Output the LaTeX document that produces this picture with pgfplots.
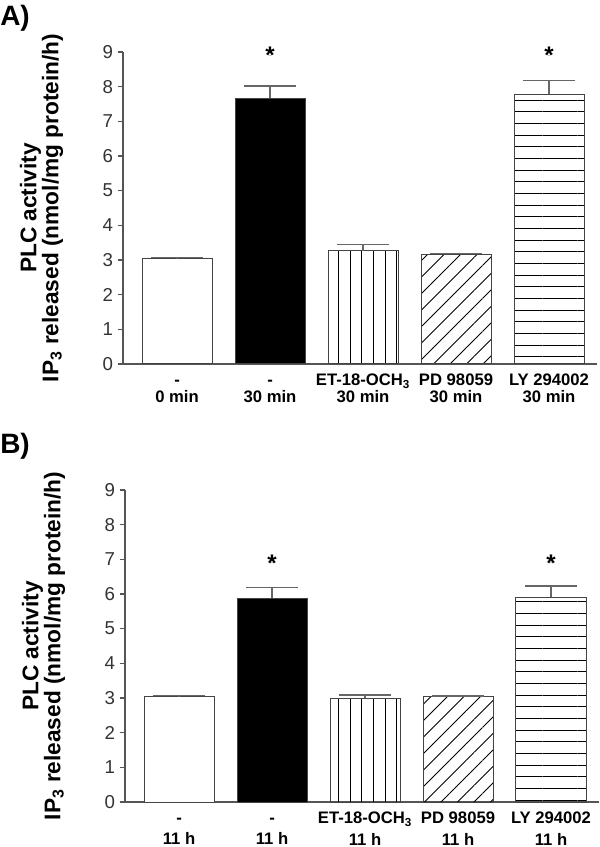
\documentclass[border=0pt]{standalone}
\usepackage{fontspec}
\setmainfont{Liberation Sans}
\usepackage{pgfplots}
\pgfplotsset{compat=1.18}
\usetikzlibrary{patterns.meta}
\definecolor{axc}{HTML}{555555}
\definecolor{barc}{HTML}{444444}
\definecolor{errc}{HTML}{666666}
\definecolor{tickc}{HTML}{333333}
\pgfplotsset{
 panel/.style={
  width=355.5pt, height=234pt, scale only axis,
  xmin=-0.581, xmax=4.516, ymin=0, ymax=9,
  axis x line*=bottom, axis y line*=left,
  axis line style={axc, line width=0.9pt, -},
  ytick={0,...,9}, tick align=outside, major tick length=4pt,
  ytick style={axc, line width=0.9pt},
  xtick={0,...,4}, xtick style={draw=none},
  yticklabel style={font=\fontsize{14}{16}\selectfont, text=tickc},
  xticklabel style={align=center, font=\bfseries\fontsize{12.5}{12.5}\selectfont, text=black},
  /pgf/number format/assume math mode=true,
  ylabel={PLC activity\\IP\textsubscript{3} released (nmol/mg protein/h)},
  ylabel style={align=center, font=\bfseries\fontsize{17}{16.5}\selectfont, at={(axis description cs:-0.172,0.5)}, anchor=center},
  clip=false,
 },
 mybar/.style={ybar, bar width=0.753, bar shift=0pt, draw=barc, line width=0.75pt,
  /pgfplots/error bars/y dir=plus, /pgfplots/error bars/y explicit,
  /pgfplots/error bars/error bar style={errc, line width=1pt},
  /pgfplots/error bars/error mark options={rotate=90, mark size=19.5pt, line width=1pt, errc}},
 star/.style={only marks, mark=*, mark size=0.01pt, mark options={draw=none, fill=none},
  nodes near coords={\bfseries\fontsize{18}{18}\selectfont *}, nodes near coords align=center},
}
\begin{document}
\begin{tikzpicture}
\path[use as bounding box] (0pt,0pt) rectangle (450pt,635.25pt);
\node[anchor=north west, font=\bfseries\fontsize{21}{21}\selectfont, inner sep=0pt] at (0pt,631.5pt) {A)};
\node[anchor=north west, font=\bfseries\fontsize{21}{21}\selectfont, inner sep=0pt] at (0pt,310.5pt) {B)};
\begin{axis}[panel, at={(92.25pt,362.25pt)}, anchor=south west,
  xticklabels={{\vphantom{E}-\\0 min},{\vphantom{E}-\\30 min},{ET-18-OCH\textsubscript{3}\\30 min},{PD 98059\\30 min},{LY 294002\\30 min}}]
\addplot[mybar, fill=white] coordinates {(0,3.03) +- (0,0.04)};
\addplot[mybar, fill=black] coordinates {(1,7.66) +- (0,0.36)};
\addplot[mybar, pattern={Lines[angle=90, distance=8.75pt, line width=0.75pt]}, pattern color=black] coordinates {(2,3.26) +- (0,0.19)};
\addplot[mybar, pattern={Lines[angle=45, distance=8.75pt, line width=0.75pt]}, pattern color=black] coordinates {(3,3.16) +- (0,0.03)};
\addplot[mybar, pattern={Lines[angle=0, distance=8.75pt, line width=0.75pt]}, pattern color=black] coordinates {(4,7.78) +- (0,0.40)};
\addplot[star] coordinates {(1,8.9) (4,8.9)};
\end{axis}
\begin{axis}[panel, at={(93.75pt,33.75pt)}, anchor=south west,
  xticklabel style={font=\bfseries\fontsize{12.5}{16}\selectfont},
  xticklabels={{\vphantom{E}-\\11 h},{\vphantom{E}-\\11 h},{ET-18-OCH\textsubscript{3}\\11 h},{PD 98059\\11 h},{LY 294002\\11 h}}]
\addplot[mybar, fill=white] coordinates {(0,3.04) +- (0,0.03)};
\addplot[mybar, fill=black] coordinates {(1,5.88) +- (0,0.31)};
\addplot[mybar, pattern={Lines[angle=90, distance=8.75pt, line width=0.75pt]}, pattern color=black] coordinates {(2,3.00) +- (0,0.09)};
\addplot[mybar, pattern={Lines[angle=45, distance=8.75pt, line width=0.75pt]}, pattern color=black] coordinates {(3,3.04) +- (0,0.02)};
\addplot[mybar, pattern={Lines[angle=0, distance=8.75pt, line width=0.75pt]}, pattern color=black] coordinates {(4,5.90) +- (0,0.33)};
\addplot[star] coordinates {(1,6.9) (4,6.9)};
\end{axis}
\end{tikzpicture}
\end{document}
